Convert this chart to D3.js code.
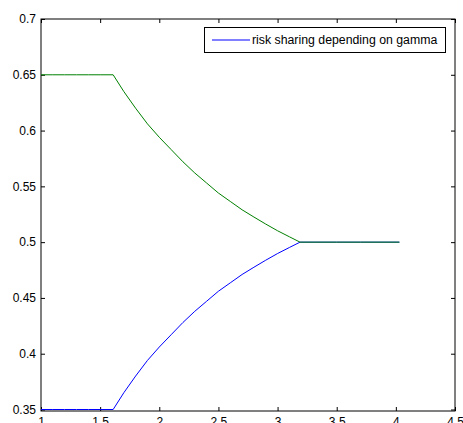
<!DOCTYPE html>
<html>
<head>
<meta charset="utf-8">
<script src="https://cdn.jsdelivr.net/npm/d3@7"></script>
<style>
  html, body { margin: 0; padding: 0; background: #fff; }
  svg { display: block; }
  text { font-family: "Liberation Sans", Arial, sans-serif; font-size: 12px; fill: #000; }
</style>
</head>
<body>
<svg id="chart" width="463" height="423"></svg>
<script>
// ---- data ----
const gamma = [1.0, 1.1, 1.2, 1.3, 1.4, 1.5, 1.61, 1.7, 1.8, 1.9, 2.0, 2.1, 2.2, 2.3, 2.4, 2.5, 2.6, 2.7, 2.8, 2.9, 3.0, 3.1, 3.19, 3.3, 3.5, 3.7, 3.9, 4.03];
const riskSharing = [0.35, 0.35, 0.35, 0.35, 0.35, 0.35, 0.35, 0.365, 0.380, 0.394, 0.406, 0.417, 0.428, 0.438, 0.447, 0.456, 0.4635, 0.4710, 0.4775, 0.4838, 0.4898, 0.4952, 0.5, 0.5, 0.5, 0.5, 0.5, 0.5];
const otherShare = [0.65, 0.65, 0.65, 0.65, 0.65, 0.65, 0.65, 0.635, 0.620, 0.606, 0.594, 0.583, 0.572, 0.562, 0.553, 0.544, 0.5365, 0.5290, 0.5225, 0.5162, 0.5102, 0.5048, 0.5, 0.5, 0.5, 0.5, 0.5, 0.5];
const xTicks = [1, 1.5, 2, 2.5, 3, 3.5, 4, 4.5];
const yTicks = [0.35, 0.4, 0.45, 0.5, 0.55, 0.6, 0.65, 0.7];
const legendLabel = "risk sharing depending on gamma";

// ---- layout ----
const svg = d3.select("#chart");
const L = 41, R = 455, T = 19, B = 411;
const x = d3.scaleLinear().domain([1, 4.5]).range([L, R]);
const y = d3.scaleLinear().domain([0.35, 0.7]).range([B - 1.5, T]);
const fmt = d => String(d);

// axes (box with inward ticks)
const tick = 4;
svg.append("g").attr("transform", `translate(0,${B})`)
  .call(d3.axisBottom(x).tickValues(xTicks).tickFormat(fmt).tickSizeInner(-tick).tickSizeOuter(0).tickPadding(6))
  .call(g => g.select(".domain").remove());
svg.append("g").attr("transform", `translate(0,${T})`)
  .call(d3.axisTop(x).tickValues(xTicks).tickFormat("").tickSizeInner(-tick).tickSizeOuter(0))
  .call(g => g.select(".domain").remove());
svg.append("g").attr("transform", `translate(${L},0)`)
  .call(d3.axisLeft(y).tickValues(yTicks).tickFormat(fmt).tickSizeInner(-tick).tickSizeOuter(0).tickPadding(5))
  .call(g => g.select(".domain").remove());
svg.append("g").attr("transform", `translate(${R},0)`)
  .call(d3.axisRight(y).tickValues(yTicks).tickFormat("").tickSizeInner(-tick).tickSizeOuter(0))
  .call(g => g.select(".domain").remove());
svg.selectAll(".tick line").attr("stroke", "#000");
svg.selectAll(".tick text").style("font-size", "12px").style("font-family", "'Liberation Sans', Arial, sans-serif").attr("fill", "#000");

// frame
svg.append("rect").attr("x", L).attr("y", T).attr("width", R - L).attr("height", B - T)
  .attr("fill", "none").attr("stroke", "#000").attr("stroke-width", 1);

// lines
const line = vals => d3.line().x((d, i) => x(gamma[i])).y(d => y(d))(vals);
svg.append("path").attr("d", line(riskSharing)).attr("fill", "none").attr("stroke", "#0000ff").attr("stroke-width", 1);
svg.append("path").attr("d", line(otherShare)).attr("fill", "none").attr("stroke", "#008000").attr("stroke-width", 1);

// legend
const lg = svg.append("g");
lg.append("rect").attr("x", 204.5).attr("y", 27.5).attr("width", 241).attr("height", 25)
  .attr("fill", "#fff").attr("stroke", "#000").attr("stroke-width", 1);
lg.append("line").attr("x1", 212).attr("x2", 250).attr("y1", 40).attr("y2", 40)
  .attr("stroke", "#0000ff").attr("stroke-width", 1.2);
lg.append("text").attr("x", 252).attr("y", 43.5).style("font-size", "12.3px").text(legendLabel);
</script>
</body>
</html>
